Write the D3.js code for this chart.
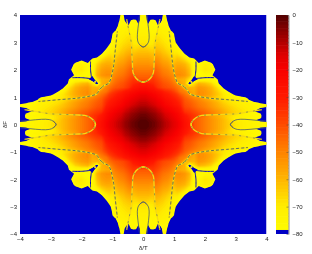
<!DOCTYPE html>
<html>
<head>
<meta charset="utf-8">
<script src="https://cdn.jsdelivr.net/npm/d3@7"></script>
<style>
  html, body { margin: 0; padding: 0; background: #fff; }
  svg { display: block; filter: blur(.35px); }
  text { font-family: "Liberation Sans", sans-serif; font-size: 6px; fill: #222; }
</style>
</head>
<body>
<svg width="312" height="254"></svg>
<script>
// grid positions, same for both axes (finer near the axis, the fingers are thin there)
const gridPos = [0,.08,.16,.24,.32,.4,.48,.56,.64,.72,.8,.9,1,1.1,1.2,1.35,1.5,1.65,1.8,2,2.2,2.4,2.6,2.8,3,3.2,3.4,3.6,3.8,4];

// level in dB, the plot is symmetric in x, y and x<->y so only
// one octant is kept: row i is x = gridPos[i], column j is y = gridPos[j], j <= i
const levels = [
  [0],
  [0,0],
  [-1,-1,-2],
  [-2,-2,-3,-4],
  [-3,-3,-4,-5,-6],
  [-4,-4,-5,-6,-7,-8],
  [-6,-6,-7,-8,-9,-10,-12],
  [-7,-7,-8,-9,-10,-11,-13,-14],
  [-9,-9,-10,-11,-12,-13,-15,-16,-18],
  [-11,-11,-12,-13,-14,-15,-17,-18,-20,-22],
  [-12,-12,-13,-14,-15,-16,-18,-19,-21,-23,-24],
  [-14,-14,-15,-16,-17,-18,-20,-21,-23,-25,-26,-28],
  [-16,-16,-17,-18,-19,-20,-22,-23,-25,-27,-28,-30,-32],
  [-18,-18,-19,-20,-21,-22,-24,-25,-27,-29,-30,-32,-34,-37],
  [-21,-21,-22,-23,-24,-25,-27,-28,-30,-32,-33,-35,-38,-42,-47],
  [-26,-26,-27,-28,-29,-32,-35,-37,-39,-40,-41,-42,-44,-47,-50,-62],
  [-30,-30,-31,-32,-33,-35,-37,-39,-41,-42,-43,-45,-48,-52,-56,-60,-86],
  [-42,-42,-42,-37,-36,-38,-40,-42,-44,-45,-46,-48,-52,-58,-58,-60,-68,-88],
  [-45,-45,-45,-45,-39,-41,-43,-45,-47,-48,-49,-51,-53,-52,-52,-54,-60,-77,-77],
  [-49,-49,-49,-49,-48,-44,-46,-48,-50,-51,-52,-55,-57,-54,-54,-56,-62,-76,-76,-69],
  [-53,-53,-53,-54,-55,-48,-50,-52,-54,-55,-56,-59,-60,-58,-58,-60,-66,-77,-76,-71,-74],
  [-57,-57,-57,-58,-59,-53,-54,-56,-58,-59,-60,-63,-65,-63,-64,-68,-75,-78,-88,-82,-90,-90],
  [-61,-61,-61,-62,-63,-58,-59,-60,-62,-63,-65,-67,-69,-69,-72,-80,-90,-90,-90,-90,-90,-90,-90],
  [-65,-65,-66,-67,-67,-62,-63,-64,-65,-67,-68,-70,-73,-75,-80,-90,-90,-90,-90,-90,-90,-90,-90,-90],
  [-69,-69,-71,-71,-70,-66,-66,-67,-68,-69,-70,-72,-76,-81,-90,-90,-90,-90,-90,-90,-90,-90,-90,-90,-90],
  [-71,-71,-72,-72,-72,-70,-68,-69,-70,-71,-72,-73,-77,-90,-90,-90,-90,-90,-90,-90,-90,-90,-90,-90,-90,-90],
  [-73,-73,-74,-75,-75,-75,-72,-71,-72,-72,-73,-78,-80,-90,-90,-90,-90,-90,-90,-90,-90,-90,-90,-90,-90,-90,-90],
  [-74,-74,-76,-76,-75,-76,-78,-74,-74,-75,-77,-84,-90,-90,-90,-90,-90,-90,-90,-90,-90,-90,-90,-90,-90,-90,-90,-90],
  [-75,-75,-84,-77,-76,-78,-90,-82,-76,-76,-80,-90,-90,-90,-90,-90,-90,-90,-90,-90,-90,-90,-90,-90,-90,-90,-90,-90,-90],
  [-76,-76,-90,-90,-90,-90,-90,-90,-78,-77,-84,-90,-90,-90,-90,-90,-90,-90,-90,-90,-90,-90,-90,-90,-90,-90,-90,-90,-90,-90]
];

// thin null curves, too narrow for the grid, [x, y] in the same octant
const outerNull = [[3.85,.54],[3.4,.46],[3,.39],[2.6,.37],[2.2,.35],[1.9,.33],[1.7,.24],[1.58,.1],[1.55,0],[1.58,-.1]];
const innerNull = [[4,.12],[3.7,.15],[3.3,.19],[3.05,.18],[2.92,.12],[2.83,0],[2.92,-.12]];
const edgeNull = [[1.35,1.35],[1.42,1.28],[1.51,1.12],[1.73,1.04],[2.16,.96],[2.7,.91],[3.4,.84]];
const gapNull = [[1.73,1.68],[2,1.71],[2.3,1.71]];
const dotNull = [[1.57,1.55]];

const xTicks = [-4,-3,-2,-1,0,1,2,3,4];
const barTicks = [0,-10,-20,-30,-40,-50,-60,-70,-80];
const barStops = [-80,-70,-60,-50,-40,-30,-20,-15,-10,0];
const barColors = ['#ffff00','#ffec00','#ffb400','#ff8200','#ff4a00','#ff1800','#f80000','#e00000','#b00000','#500000'];
const BLUE = '#0000c4';

const svg = d3.select('svg');
const x = d3.scaleLinear().domain([-4,4]).range([20,266.5]);
const y = d3.scaleLinear().domain([-4,4]).range([234,15]);
const barY = d3.scaleLinear().domain([-80,0]).range([234,15]);
const color = d3.scaleLinear().domain(barStops).range(barColors);

// mirror the octant into the full square
const fullPos = gridPos.slice(1).reverse().map(d => -d).concat(gridPos);
const n = fullPos.length;
const values = [];
for (let r = 0; r < n; r++) {
  for (let c = 0; c < n; c++) {
    const a = Math.abs(r - (n - 1) / 2), b = Math.abs(c - (n - 1) / 2);
    values.push(levels[Math.max(a, b)][Math.min(a, b)]);
  }
}

const idxToPos = d3.scaleLinear().domain(d3.range(n)).range(fullPos);
const thresholds = d3.range(-78.75, 0, 1.25);
const contours = d3.contours().size([n, n]).thresholds(thresholds)(values);
const project = d3.geoTransform({
  point(px, py) {
    this.stream.point(x(idxToPos(px - .5)), y(idxToPos(py - .5)));
  }
});
const path = d3.geoPath(project);

svg.append('clipPath').attr('id', 'plot-clip').append('rect')
  .attr('x', x(-4)).attr('y', y(4)).attr('width', x(4) - x(-4)).attr('height', y(-4) - y(4));

const plot = svg.append('g').attr('clip-path', 'url(#plot-clip)');
plot.append('rect')
  .attr('x', x(-4)).attr('y', y(4)).attr('width', x(4) - x(-4)).attr('height', y(-4) - y(4))
  .attr('fill', BLUE);
plot.selectAll('path.level').data(contours).join('path')
  .attr('class', 'level')
  .attr('d', path)
  .attr('fill', d => color(d.value + .625));

// 8 copies of an octant curve
function mirrored(pts) {
  const out = [];
  [1,-1].forEach(sx => [1,-1].forEach(sy => {
    out.push(pts.map(p => [sx * p[0], sy * p[1]]));
    out.push(pts.map(p => [sx * p[1], sy * p[0]]));
  }));
  return out;
}
const line = d3.line().x(d => x(d[0])).y(d => y(d[1])).curve(d3.curveCatmullRom);

function drawNull(pts, stroke, width, dash) {
  plot.append('g').selectAll('path').data(mirrored(pts)).join('path')
    .attr('d', line)
    .attr('fill', 'none')
    .attr('stroke', stroke)
    .attr('stroke-width', width)
    .attr('stroke-dasharray', dash);
}
drawNull(outerNull, '#f4d818', 1.3, null);
drawNull(outerNull, '#6a7a50', .7, '2 5');
drawNull(edgeNull, '#f4e010', 1.4, null);
drawNull(edgeNull, '#3c4c70', .8, '3 2');
drawNull(innerNull, '#4a5a70', .8, null);
drawNull(gapNull, BLUE, 1, null);
plot.append('g').selectAll('circle').data(mirrored(dotNull).map(d => d[0])).join('circle')
  .attr('cx', d => x(d[0])).attr('cy', d => y(d[1])).attr('r', .9).attr('fill', '#f0e020');

// axes
const xAxis = svg.append('g').attr('transform', `translate(0,${y(-4)})`)
  .call(d3.axisBottom(x).tickValues(xTicks).tickSize(0).tickPadding(3).tickFormat(d3.format('d')));
const yAxis = svg.append('g').attr('transform', `translate(${x(-4)},0)`)
  .call(d3.axisLeft(y).tickValues(xTicks).tickSize(0).tickPadding(3).tickFormat(d3.format('d')));
[xAxis, yAxis].forEach(a => {
  a.select('.domain').remove();
  a.selectAll('text').attr('font-size', null).attr('font-family', null);
});

svg.append('text').attr('x', x(0)).attr('y', 249.5).attr('text-anchor', 'middle').text('δ/T');
svg.append('text').attr('transform', `translate(7,${y(0)}) rotate(-90)`).attr('text-anchor', 'middle').text('δF');

// colorbar, drawn top down so each band covers the seam above it
const bands = d3.range(-80, 0, 1.25).reverse();
svg.append('g').selectAll('rect').data(bands).join('rect')
  .attr('x', 276).attr('width', 12.5)
  .attr('y', d => barY(d + 1.25) - (d === 0 - 1.25 ? 0 : .6))
  .attr('height', d => barY(d) - barY(d + 1.25) + (d === 0 - 1.25 ? 0 : .6))
  .attr('fill', d => d === -80 ? BLUE : color(d + .625));
const barAxis = svg.append('g').attr('transform', 'translate(288.5,0)')
  .call(d3.axisRight(barY).tickValues(barTicks).tickSizeInner(-2).tickSizeOuter(0).tickPadding(4).tickFormat(d3.format('d')));
barAxis.selectAll('text').attr('font-size', null).attr('font-family', null);
barAxis.selectAll('line').attr('stroke', '#444').attr('stroke-width', .5);
barAxis.select('.domain').attr('stroke', '#444').attr('stroke-width', .6);
</script>
</body>
</html>
